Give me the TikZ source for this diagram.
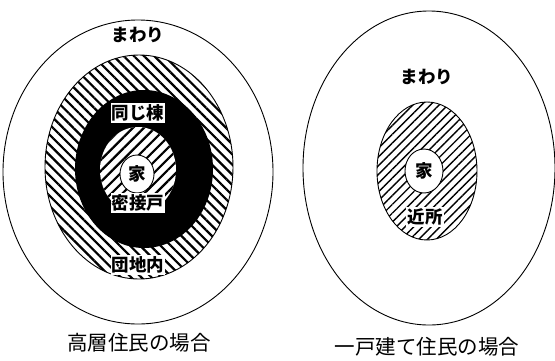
\documentclass[tikz,border=0pt]{standalone}
\usepackage{fontspec}
\newfontfamily\jp{Noto Sans CJK JP}
\usetikzlibrary{shapes.geometric,patterns.meta}
\tikzset{
  region/.style={ellipse, inner sep=0pt, line width=0.9pt},
  hatchNW/.style={region, preaction={fill=white}, pattern={Lines[angle=-45,distance=7.2pt,line width=2.2pt]}},
  hatchNE/.style={region, preaction={fill=white}, pattern={Lines[angle=45,distance=7.8pt,line width=2.2pt]}},
  hatchNEthin/.style={region, preaction={fill=white}, pattern={Lines[angle=45,distance=6.2pt,line width=1.4pt]}},
  lbl/.style={font=\jp\bfseries\fontsize{17.5}{17.5}\selectfont, inner sep=1.2pt},
  boxlbl/.style={lbl, fill=white},
  captext/.style={font=\jp\fontsize{20.5}{20.5}\selectfont, inner sep=0pt},
}
\begin{document}
\begin{tikzpicture}[x=1pt,y=-1pt]
\useasboundingbox (0,0) rectangle (555,360);
% left figure
\node[region, draw, fill=white, minimum width=270, minimum height=304] (outerL) at (138,172) {};
\node[hatchNW, draw, minimum width=188, minimum height=224] (danchi) at (139,167) {};
\node[region, fill=black, minimum width=138, minimum height=158] (tou) at (144,169) {};
\node[hatchNE, minimum width=76, minimum height=86] (missetsu) at (138,170) {};
\node[region, draw, fill=white, minimum width=34, minimum height=38] (ieL) at (137,174) {};
\node[lbl] (mawariL) at (138,35) {まわり};
\node[boxlbl] (onaji) at (138,113) {同じ棟};
\node[lbl] (ieLt) at (137,174) {家};
\node[boxlbl] (misst) at (138,203) {密接戸};
\node[boxlbl] (danchit) at (138,265) {団地内};
\node[captext] (capL) at (139,343) {高層住民の場合};
% right figure
\node[region, draw, fill=white, minimum width=252, minimum height=314] (outerR) at (429,168) {};
\node[hatchNEthin, draw, minimum width=100, minimum height=138] (kinjo) at (427,171) {};
\node[region, draw, fill=white, minimum width=38, minimum height=44] (ieR) at (424,171) {};
\node[lbl] (mawariR) at (427,77) {まわり};
\node[lbl] (ieRt) at (424,171) {家};
\node[boxlbl] (kinjot) at (425,217) {近所};
\node[captext] (capR) at (427,347) {一戸建て住民の場合};
\end{tikzpicture}
\end{document}
